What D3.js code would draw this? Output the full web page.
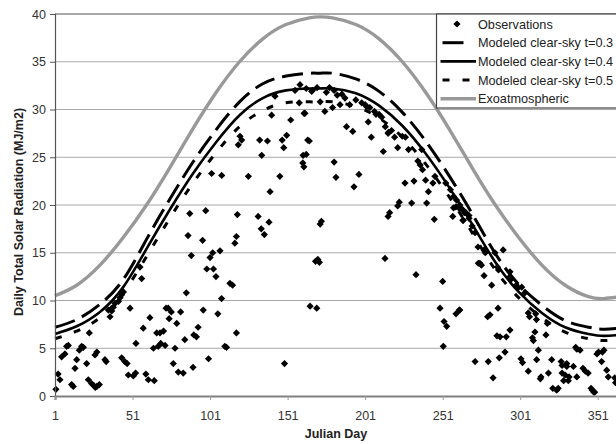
<!DOCTYPE html>
<html><head><meta charset="utf-8">
<script src="https://cdn.jsdelivr.net/npm/d3@7"></script>
<style>body{margin:0;background:#fff}svg{display:block;font-family:"Liberation Sans",Arial,sans-serif}</style>
</head><body><svg id="c" width="616" height="444"></svg>
<script>
const xTicks = [1,51,101,151,201,251,301,351];
const yTicks = [0,5,10,15,20,25,30,35,40];
const seriesNames = ["Observations","Modeled clear-sky t=0.3","Modeled clear-sky t=0.4","Modeled clear-sky t=0.5","Exoatmospheric"];

const curveDays = [1,15,30,45,60,75,90,105,120,135,150,165,172,180,195,210,225,240,255,270,285,300,315,330,345,355,366];
const exoValues = [10.5,11.6,13.7,16.6,20.0,23.9,28.0,31.8,35.0,37.4,38.9,39.6,39.7,39.6,38.9,37.4,35.0,31.8,28.0,23.9,20.0,16.6,13.7,11.6,10.4,10.2,10.4];
const t03Values = [7.2,8.0,9.6,12.2,16.4,20.6,24.5,27.9,30.8,32.7,33.5,33.8,33.8,33.8,33.2,31.9,29.7,26.7,23.1,19.1,14.9,11.7,9.5,7.9,7.2,7.0,7.1];
const t04Values = [6.5,7.3,8.8,11.4,15.4,19.5,23.3,26.6,29.4,31.2,32.0,32.2,32.2,32.2,31.7,30.4,28.3,25.4,21.9,18.0,14.0,10.9,8.7,7.2,6.5,6.3,6.4];
const t05Values = [6.0,6.8,8.2,10.8,14.6,18.6,22.3,25.5,28.2,29.9,30.7,30.8,30.8,30.8,30.3,29.1,27.1,24.3,20.9,17.1,13.2,10.3,8.2,6.7,6.0,5.8,5.9];

const obsDays = [1.6,3,4.2,5.3,7.4,8.5,9.6,11.7,12.8,13.9,15,16.7,18.2,19.3,21.4,22.5,23.1,24.6,26,27,28,29.6,26.8,28,33.2,34,35.4,36.5,37.6,38.6,39.7,41.9,43,44,45.1,44,46,47.5,48.3,49.4,51.5,53,53.2,55.8,56.9,57.9,59.6,61.2,62.2,65,64.5,66.6,67.6,68.7,69.2,71,72,72.6,74,74.6,76,77.3,78.4,79.5,80.5,82,83.7,84.7,85.7,86.8,87.9,88.9,90,90.5,92.2,93.3,96.2,96.6,98.2,98.9,100,101,102.7,103.2,104.8,106,107.4,108.4,110.5,111.6,113.8,115.5,117,118,118.6,118,
102,108.5,119.2,120.3,121.4,125.7,132,133,134.3,138,139.7,140.7,142.9,146,147.5,148.5,150.4,153,155.8,158.5,159,160.8,161,161.6,164,166.5,134,136,139,149,
162.2,165,161.5,163,172,172.8,169,170.5,171.5,165.5,169.8,175,180,172,184.8,191,189,193,181,182.2,197,193.8,198.8,201,204,207,210,211.7,203,205,212.7,213.8,215.8,216.8,215.8,216,220,222,225,227,222,223,226.7,231,232.5,233.8,235,236.5,238,237.5,240,241.8,240.7,244.7,246,245.6,249.3,251,251.9,253.6,251.4,259.6,261.7,271.9,253,256,258,260,262,264,266,268,270,258,259.5,257.5,264.3,273.8,274,
163,167,170,176,178,181,183,186,188,195,202,208,214,218,229,
262,265,268,264,271.9,277.7,278.5,275,276,277.7,282.6,286.3,287,284.7,290,294.4,293.8,295,298.5,299.5,302,304,262,280,281.5,286.7,286,288,292,294.4,291.2,280.4,287.5,283.5,301.5,302.5,306.2,306.2,307,311,311.5,308.9,309.5,310.5,312.7,311.6,314.4,314,317.6,318.5,319.2,322,324.5,325.5,321.3,327.4,328,328,330,329,331,331,332.5,332,336.8,337.5,335.3,341.5,343,339.6,337.5,346.7,347.5,348.5,349,344.8,350.5,351.5,354,355,353.5,356.8,357.8,362,362.5];
const obsValues = [0.7,2.3,1.7,4.1,4.4,5.2,5.3,1.2,1.0,2.9,3.8,4.8,5.2,5.1,3.4,1.7,6.6,1.3,1.1,0.9,1.0,1.2,4.3,4.6,3.8,3.6,9.0,8.3,8.9,9.3,9.7,9.9,10.3,10.6,10.9,4.0,3.6,3.4,2.2,9.2,2.1,2.4,5.5,13.5,12.3,7.1,2.3,1.7,8.2,1.6,5.0,6.6,5.2,6.6,5.5,6.8,5.3,9.2,9.2,8.1,8.8,3.4,5.0,7.6,2.5,8.8,2.4,5.9,10.8,16.8,19.1,14.7,3.0,6.4,6.2,7.2,16.3,9.0,19.4,13.3,3.9,14.5,15.0,13.3,12.5,8.6,15.2,10.2,5.2,5.1,11.8,11.6,16.0,16.7,19.0,6.6,
23.3,23.1,26.3,27.2,26.8,23.0,18.8,26.8,25.2,26.7,21.4,29.4,31.4,23.0,26.8,26.0,27.3,28.9,32.0,30.7,32.6,24.4,25.2,29.6,26.8,31.9,17.5,16.9,18.2,3.4,
29.6,26.7,24.0,25.3,18.0,18.3,14.1,14.3,14.0,9.4,9.2,29.8,30.2,30.8,30.5,30.5,28.2,27.7,24.5,22.9,23.2,21.9,30.7,30.5,30.2,29.8,29.5,29.2,28.7,27.1,25.6,14.4,18.8,19.2,27.5,27.6,27.1,26.0,27.2,27.1,19.9,20.3,22.3,20.2,22.5,12.7,24.6,24.2,23.7,25.8,22.6,21.4,20.2,22.3,23.0,18.5,9.2,12.0,7.8,7.3,5.2,8.6,9.0,3.6,22.3,21.6,20.9,20.5,20.0,19.5,19.2,18.6,17.8,19.7,19.8,18.8,18.4,15.6,13.9,
32.2,32.0,32.3,31.8,32.3,32.0,31.5,31.6,31.2,31.0,30.3,29.5,28.2,27.8,25.8,
19.6,19.2,18.9,18.4,17.1,15.3,15.0,13.9,13.7,12.6,11.6,13.5,13.2,15.0,15.3,13.0,12.4,12.2,11.6,11.3,11.4,10.8,9.0,8.3,8.5,9.2,6.3,6.2,6.2,6.9,4.6,3.6,4.0,1.9,3.9,3.5,2.6,8.7,8.3,8.6,8.0,6.1,5.8,6.7,4.8,3.8,2.0,1.8,6.4,7.6,2.4,0.8,0.6,0.8,3.8,3.6,3.2,2.4,2.2,1.6,3.4,3.1,2.0,1.6,5.1,4.9,3.1,2.9,2.6,4.8,2.0,0.8,0.6,0.4,0.4,2.4,4.4,4.6,4.6,4.8,3.6,2.7,2.0,1.9,1.4];

const svg = d3.select("#c");
const x = d3.scaleLinear().domain([1,366]).range([55,621]);
const y = d3.scaleLinear().domain([0,40]).range([396,14]);

svg.append("g").selectAll("line").data(yTicks.filter(v=>v>0&&v<40)).join("line")
  .attr("x1",x(1)).attr("x2",x(366)).attr("y1",d=>y(d)).attr("y2",d=>y(d))
  .attr("stroke","#a8a8a8").attr("stroke-width",1);
svg.append("line").attr("x1",x(1)).attr("x2",x(366)).attr("y1",y(40)).attr("y2",y(40)).attr("stroke","#555").attr("stroke-width",1.2);

svg.append("g").selectAll("path").data(obsDays.map((d,i)=>[d,obsValues[i]])).join("path")
  .attr("d",d3.symbol(d3.symbolSquare,26))
  .attr("transform",d=>`translate(${x(d[0])},${y(d[1])}) rotate(45)`)
  .attr("fill","#000");

const line = d3.line().x(d=>x(d[0])).y(d=>y(d[1])).curve(d3.curveNatural);
const pts = vals => curveDays.map((d,i)=>[d,vals[i]]);
svg.append("path").datum(pts(exoValues)).attr("d",line)
  .attr("fill","none").attr("stroke","#999").attr("stroke-width",3.4);
svg.append("path").datum(pts(t03Values)).attr("d",line)
  .attr("fill","none").attr("stroke","#000").attr("stroke-width",3).attr("stroke-dasharray","21,8");
svg.append("path").datum(pts(t04Values)).attr("d",line)
  .attr("fill","none").attr("stroke","#000").attr("stroke-width",2.6);
svg.append("path").datum(pts(t05Values)).attr("d",line)
  .attr("fill","none").attr("stroke","#000").attr("stroke-width",3).attr("stroke-dasharray","7,13");

const ya = svg.append("g").attr("transform",`translate(${x(1)},0)`)
  .call(d3.axisLeft(y).tickValues(yTicks).tickSize(5).tickPadding(4));
ya.select(".domain").attr("stroke","#555").attr("stroke-width",1.2);
ya.selectAll(".tick line").attr("stroke","#555");
ya.selectAll("text").attr("font-size","12.5px").attr("fill","#333").attr("font-family","Liberation Sans, Arial, sans-serif");

const xa = svg.append("g").attr("transform",`translate(0,${y(0)})`)
  .call(d3.axisBottom(x).tickValues(xTicks).tickSize(4).tickPadding(11));
xa.select(".domain").attr("stroke","#808080").attr("stroke-width",2.2);
xa.selectAll(".tick line").attr("stroke","#999");
xa.selectAll("text").attr("font-size","12.5px").attr("fill","#333").attr("font-family","Liberation Sans, Arial, sans-serif");

svg.append("text").attr("x",336).attr("y",438).attr("text-anchor","middle")
  .attr("font-size","12.5px").attr("font-weight","bold").attr("fill","#222").text("Julian Day");
svg.append("text").attr("transform","translate(23,212) rotate(-90)").attr("text-anchor","middle")
  .attr("font-size","12.5px").attr("font-weight","bold").attr("fill","#222").text("Daily Total Solar Radiation (MJ/m2)");

const lg = svg.append("g");
lg.append("rect").attr("x",436.5).attr("y",14).attr("width",200).attr("height",94)
  .attr("fill","#fff").attr("stroke","#444").attr("stroke-width",1.2);
const rowY = i => 24 + i*18.7;
lg.append("path").attr("d",d3.symbol(d3.symbolSquare,26)).attr("transform",`translate(457,${rowY(0)}) rotate(45)`).attr("fill","#000");
lg.append("line").attr("x1",442.5).attr("x2",463.5).attr("y1",rowY(1)).attr("y2",rowY(1)).attr("stroke","#000").attr("stroke-width",3);
lg.append("line").attr("x1",440.5).attr("x2",476).attr("y1",rowY(2)).attr("y2",rowY(2)).attr("stroke","#000").attr("stroke-width",2.6);
lg.append("line").attr("x1",442.5).attr("x2",470).attr("y1",rowY(3)).attr("y2",rowY(3)).attr("stroke","#000").attr("stroke-width",3).attr("stroke-dasharray","7,13");
lg.append("line").attr("x1",440.5).attr("x2",476).attr("y1",rowY(4)).attr("y2",rowY(4)).attr("stroke","#999").attr("stroke-width",3.4);
lg.selectAll("text").data(seriesNames).join("text")
  .attr("x",478).attr("y",(d,i)=>rowY(i)).attr("dy","0.36em")
  .attr("font-size","12.7px").attr("fill","#222").text(d=>d);
</script></body></html>
